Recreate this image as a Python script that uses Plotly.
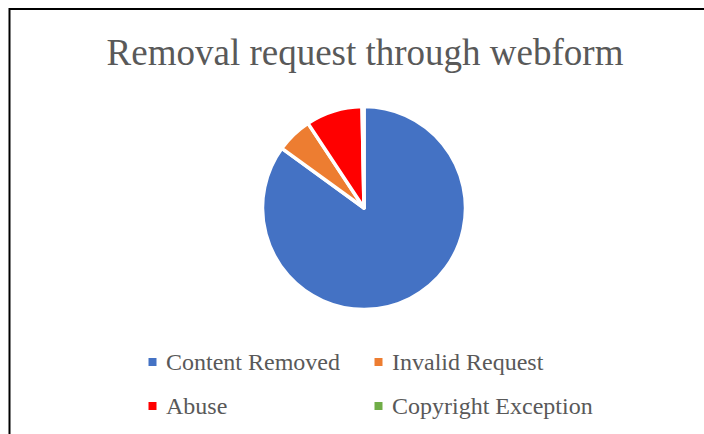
import plotly.graph_objects as go

W, H = 704, 434

labels = ["Content Removed", "Invalid Request", "Abuse", "Copyright Exception"]
values = [85.0, 5.7, 9.0, 0.3]
colors = ["#4472C4", "#ED7D31", "#FF0000", "#70AD47"]
title_text = "Removal request through webform"

def px_x(x):
    return x / W

def px_y(y):
    return 1 - y / H

fig = go.Figure()
fig.add_trace(go.Pie(
    labels=labels,
    values=values,
    sort=False,
    direction="clockwise",
    rotation=0,
    marker=dict(colors=colors, line=dict(color="white", width=3.5)),
    textinfo="none",
    hoverinfo="label+percent",
    showlegend=False,
    domain=dict(x=[px_x(262.5), px_x(465.5)], y=[px_y(309.5), px_y(106.5)]),
))

# legend (2 columns x 2 rows)
legend_pos = [(152.5, 362), (378.5, 362), (152.5, 406), (378.5, 406)]
shapes = []
annotations = []
for (lx, ly), lab, col in zip(legend_pos, labels, colors):
    shapes.append(dict(type="rect", xref="paper", yref="paper",
                       x0=px_x(lx - 4), x1=px_x(lx + 4),
                       y0=px_y(ly + 4), y1=px_y(ly - 4),
                       fillcolor=col, line=dict(width=0)))
    annotations.append(dict(text=lab, xref="paper", yref="paper",
                            x=px_x(lx + 11.5), y=px_y(ly), xanchor="left", yanchor="middle",
                            showarrow=False,
                            font=dict(family="Liberation Serif", size=24, color="#595959")))

# chart border
shapes.append(dict(type="rect", xref="paper", yref="paper",
                   x0=px_x(9.5), x1=px_x(720), y0=px_y(450), y1=px_y(9),
                   line=dict(color="black", width=2), fillcolor="rgba(0,0,0,0)"))

fig.update_layout(
    width=W, height=H,
    margin=dict(l=0, r=0, t=0, b=0),
    paper_bgcolor="white",
    plot_bgcolor="white",
    title=dict(text=title_text, x=px_x(365), y=px_y(52), xanchor="center", yanchor="middle",
               xref="paper", yref="paper",
               font=dict(family="Liberation Serif", size=37, color="#595959")),
    shapes=shapes,
    annotations=annotations,
)

fig.write_html("out.html")
